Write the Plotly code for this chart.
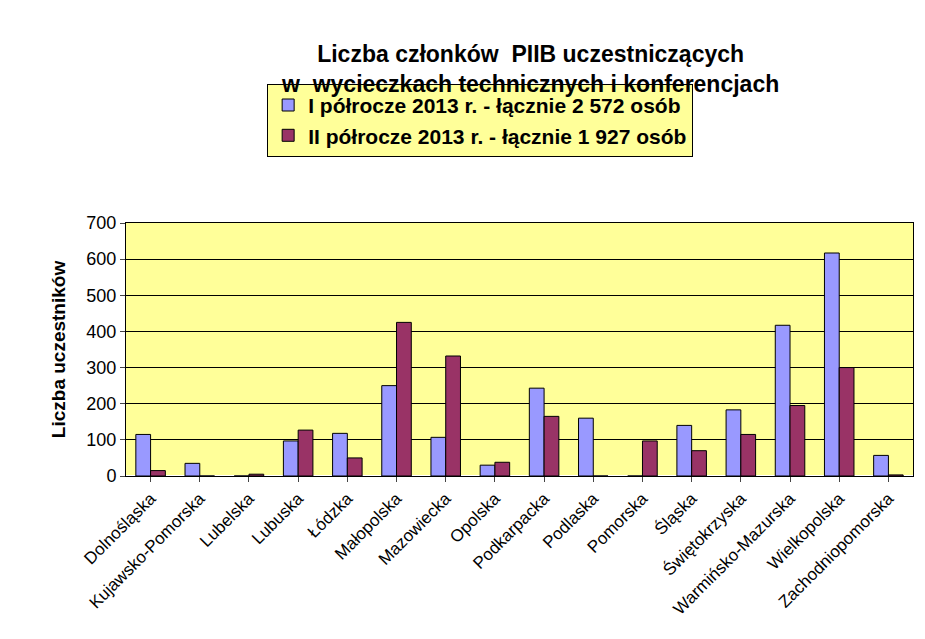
import plotly.graph_objects as go

categories = ["Dolnośląska","Kujawsko-Pomorska","Lubelska","Lubuska","Łódzka","Małopolska",
              "Mazowiecka","Opolska","Podkarpacka","Podlaska","Pomorska","Śląska",
              "Świętokrzyska","Warmińsko-Mazurska","Wielkopolska","Zachodniopomorska"]
h1 = [115, 35, 0, 97, 118, 250, 107, 30, 243, 160, 0, 140, 183, 417, 617, 57]
h2 = [15, 0, 5, 127, 50, 425, 332, 38, 165, 0, 97, 70, 115, 195, 300, 3]
names = ["I półrocze 2013 r. - łącznie 2 572 osób", "II półrocze 2013 r. - łącznie 1 927 osób"]

F = "Liberation Sans, Arial, sans-serif"
fig = go.Figure()
fig.add_bar(x=categories, y=h1, name=names[0], marker=dict(color="#9999FF", line=dict(color="black", width=1)))
fig.add_bar(x=categories, y=h2, name=names[1], marker=dict(color="#993366", line=dict(color="black", width=1)))
fig.update_layout(
    width=925, height=639, paper_bgcolor="white", plot_bgcolor="#FFFF99",
    margin=dict(l=118, r=20, t=215, b=171),
    bargap=0.4, bargroupgap=0,
    font=dict(family=F, color="black"),
    title=dict(text="<b>Liczba członków  PIIB uczestniczących<br>w  wycieczkach technicznych i konferencjach</b>",
               x=0.565, xanchor="center", y=0.915, yanchor="middle", font=dict(size=23, family=F)),
    legend=dict(x=0.45, xanchor="center", y=1.55, yanchor="top", bgcolor="#FFFF99",
                bordercolor="black", borderwidth=1, font=dict(size=21, family=F, weight="bold"),
                itemwidth=30, tracegroupgap=10),
    xaxis=dict(tickangle=-45, tickfont=dict(size=17), showline=True, linecolor="black", mirror=True,
               ticks="outside", ticklen=5, automargin=False),
    yaxis=dict(range=[0, 700], dtick=100, tickfont=dict(size=18), gridcolor="black", gridwidth=1,
               showline=True, linecolor="black", mirror=True, ticks="outside", ticklen=5, automargin=False,
               title=dict(text="<b>Liczba uczestników</b>", font=dict(size=19), standoff=15)),
)
fig.write_html("out.html")
